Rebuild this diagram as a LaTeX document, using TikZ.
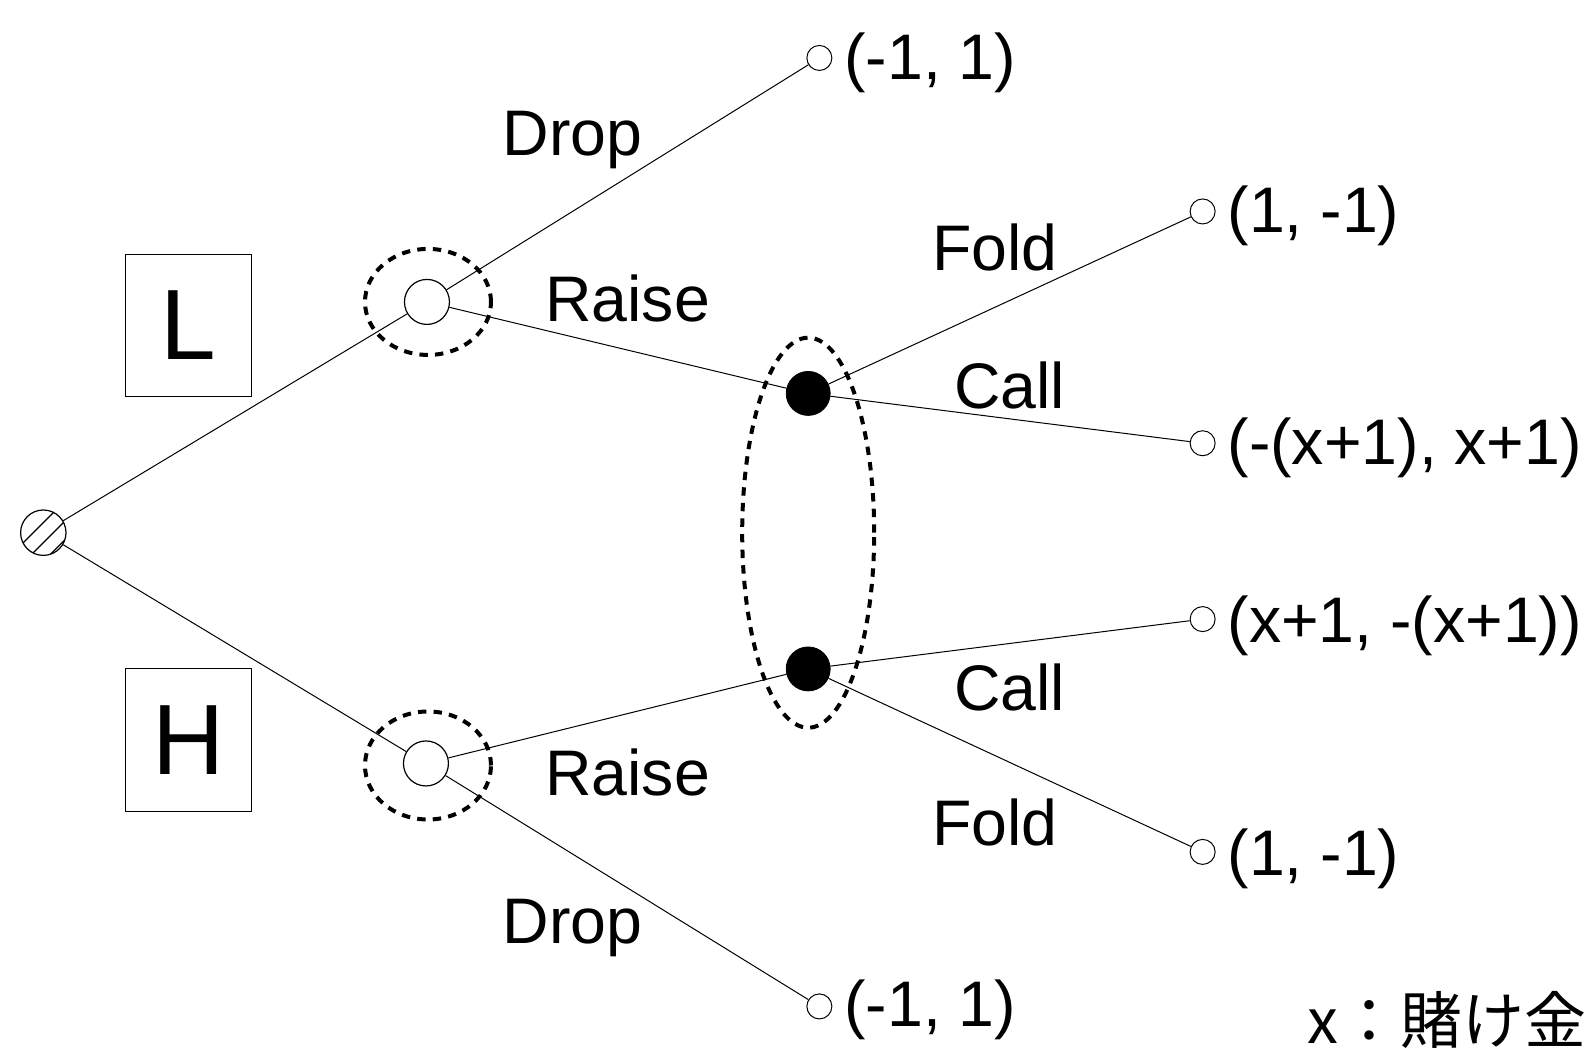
\documentclass[tikz,border=0pt]{standalone}
\usepackage{fontspec}
\setmainfont{Liberation Sans}
\newfontfamily\jpfont{Noto Sans CJK JP}
\usetikzlibrary{shapes.geometric}
\begin{document}
\begin{tikzpicture}[x=0.50829pt,y=-0.50829pt,
  edge/.style={line width=0.5pt},
  decnode/.style={circle,draw,line width=0.6pt,minimum size=22.5pt,inner sep=0pt,fill=white},
  chnode/.style={circle,draw,fill=black,minimum size=22pt,inner sep=0pt},
  leaf/.style={circle,draw,line width=0.5pt,minimum size=12.5pt,inner sep=0pt},
  info/.style={draw,line width=2pt,dash pattern=on 4.2pt off 3.6pt},
  lbl/.style={font=\fontsize{32.2}{37}\selectfont,inner sep=0pt,anchor=base west},
  payoff/.style={font=\fontsize{32.2}{37}\selectfont,inner sep=0pt,anchor=base west},
  typebox/.style={draw,line width=0.6pt,minimum width=63pt,minimum height=71.2pt,inner sep=0pt,font=\fontsize{50}{56}\selectfont}
]
\useasboundingbox (0,0) rectangle (1568,1039.8);
% info sets
\node[info,ellipse,minimum width=63pt,minimum height=53pt] (isL) at (421,297) {};
\node[info,ellipse,minimum width=63pt,minimum height=54pt] (isH) at (421,753) {};
\node[info,ellipse,minimum width=66pt,minimum height=195pt] (isB) at (795,524) {};
% nodes
\node[circle,draw,line width=0.6pt,minimum size=22.7pt,inner sep=0pt,
  path picture={
    \draw[line width=0.6pt] ([xshift=-16.5pt,yshift=-11.5pt]path picture bounding box.center) -- ++(28pt,28pt);
    \draw[line width=0.6pt] ([xshift=-11.5pt,yshift=-16.5pt]path picture bounding box.center) -- ++(28pt,28pt);
    \draw[line width=0.6pt] ([xshift=-6.8pt,yshift=-21.2pt]path picture bounding box.center) -- ++(28pt,28pt);
  }] (root) at (42.6,524) {};
\node[decnode] (nL) at (420,297) {};
\node[decnode] (nH) at (419,751) {};
\node[chnode] (cU) at (795,387) {};
\node[chnode] (cD) at (795,658) {};
\node[leaf] (l1) at (806,57) {};
\node[leaf] (l2) at (1183,208) {};
\node[leaf] (l3) at (1183,436) {};
\node[leaf] (l4) at (1183,609) {};
\node[leaf] (l5) at (1183,838) {};
\node[leaf] (l6) at (806,990) {};
% type boxes
\node[typebox] (bL) at (185.6,320.2) {L};
\node[typebox] (bH) at (185.6,728) {H};
% edges
\draw[edge] (root) -- (nL);
\draw[edge] (root) -- (nH);
\draw[edge] (nL) -- (l1);
\draw[edge] (nL) -- (cU);
\draw[edge] (nH) -- (l6);
\draw[edge] (nH) -- (cD);
\draw[edge] (cU) -- (l2);
\draw[edge] (cU) -- (l3);
\draw[edge] (cD) -- (l4);
\draw[edge] (cD) -- (l5);
% edge labels
\node[lbl] (t1) at (494,153) {Drop};
\node[lbl] (t2) at (536,316) {Raise};
\node[lbl] (t3) at (916.7,266) {Fold};
\node[lbl] (t4) at (938.3,402) {Call};
\node[lbl] (t5) at (938.3,699) {Call};
\node[lbl] (t6) at (916.7,831.5) {Fold};
\node[lbl] (t7) at (536,783) {Raise};
\node[lbl] (t8) at (494,928) {Drop};
% payoffs
\node[payoff] (p1) at ([xshift=12.3pt,yshift=-10.8pt]l1.center) {(-1, 1)};
\node[payoff] (p2) at ([xshift=12.3pt,yshift=-10.5pt]l2.center) {(1, -1)};
\node[payoff] (p3) at ([xshift=12.3pt,yshift=-10.5pt]l3.center) {(-(x+1), x+1)};
\node[payoff] (p4) at ([xshift=12.3pt,yshift=-11.5pt]l4.center) {(x+1, -(x+1))};
\node[payoff] (p5) at ([xshift=12.3pt,yshift=-12pt]l5.center) {(1, -1)};
\node[payoff] (p6) at ([xshift=12.3pt,yshift=-10pt]l6.center) {(-1, 1)};
\node[inner sep=0pt,anchor=base east,font=\jpfont\fontsize{31}{36}\selectfont] (note) at (1561,1026.3) {x：賭け金};
\end{tikzpicture}
\end{document}
